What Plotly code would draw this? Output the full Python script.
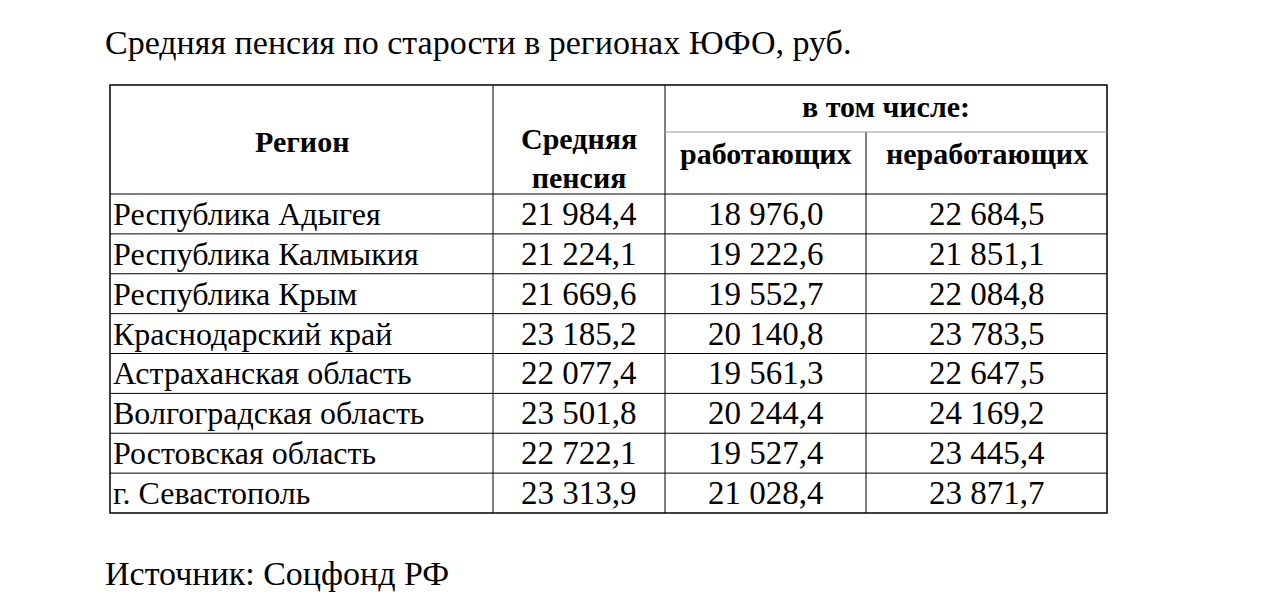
import plotly.graph_objects as go

title = "Средняя пенсия по старости в регионах ЮФО, руб."
source = "Источник: Соцфонд РФ"
regions = ["Республика Адыгея", "Республика Калмыкия", "Республика Крым",
           "Краснодарский край", "Астраханская область", "Волгоградская область",
           "Ростовская область", "г. Севастополь"]
avg = ["21 984,4", "21 224,1", "21 669,6", "23 185,2", "22 077,4", "23 501,8", "22 722,1", "23 313,9"]
working = ["18 976,0", "19 222,6", "19 552,7", "20 140,8", "19 561,3", "20 244,4", "19 527,4", "21 028,4"]
nonworking = ["22 684,5", "21 851,1", "22 084,8", "23 783,5", "22 647,5", "24 169,2", "23 445,4", "23 871,7"]

FONT = "Liberation Serif"
OFF = 8  # page offset compensation
cols = [c - OFF for c in [110, 493, 665, 866, 1107]]
top, mid, hdr = 85 - OFF, 132 - OFF, 194 - OFF
rowh = (513 - 194) / len(regions)
bottom = hdr + rowh * len(regions)

fig = go.Figure()
shapes = []
def line(x0, y0, x1, y1, w=1, c="black"):
    shapes.append(dict(type="line", x0=x0, y0=y0, x1=x1, y1=y1, xref="x", yref="y",
                       line=dict(color=c, width=w)))

shapes.append(dict(type="rect", x0=cols[0], y0=top, x1=cols[-1], y1=bottom, xref="x", yref="y",
                   line=dict(color="black", width=1.5)))
line(cols[1], top, cols[1], bottom)
line(cols[2], top, cols[2], bottom)
line(cols[3], mid, cols[3], bottom)
line(cols[2], mid, cols[4], mid, c="#999999")
for i in range(len(regions)):
    y = hdr + rowh * i
    line(cols[0], y, cols[4], y)

ann = []
def text(x, y, t, size=24, bold=False, anchor="center"):
    ann.append(dict(x=x, y=y, xref="x", yref="y", text=f"<b>{t}</b>" if bold else t,
                    showarrow=False, xanchor=anchor, yanchor="middle",
                    font=dict(family=FONT, size=size, color="black")))

text(103 - OFF, 42 - OFF, title, size=34, anchor="left")
text(103 - OFF, 573 - OFF, source, size=34, anchor="left")
text((cols[0] + cols[1]) / 2, 141 - OFF, "Регион", 30, True)
text((cols[1] + cols[2]) / 2, 158 - OFF, "Средняя<br>пенсия", 30, True)
text((cols[2] + cols[4]) / 2, 106 - OFF, "в том числе:", 30, True)
text((cols[2] + cols[3]) / 2, 153 - OFF, "работающих", 30, True)
text((cols[3] + cols[4]) / 2, 153 - OFF, "неработающих", 30, True)
for i, r in enumerate(regions):
    y = hdr + rowh * (i + 0.5)
    text(cols[0] + 1, y, r, 32, anchor="left")
    text((cols[1] + cols[2]) / 2, y, avg[i], 33)
    text((cols[2] + cols[3]) / 2, y, working[i], 33)
    text((cols[3] + cols[4]) / 2, y, nonworking[i], 33)

fig.update_layout(width=1280, height=616, margin=dict(l=0, r=0, t=0, b=0),
                  plot_bgcolor="white", paper_bgcolor="white", shapes=shapes, annotations=ann,
                  xaxis=dict(range=[0, 1280], visible=False, fixedrange=True),
                  yaxis=dict(range=[616, 0], visible=False, fixedrange=True), showlegend=False)
fig.write_html("out.html", config={"displayModeBar": False})
